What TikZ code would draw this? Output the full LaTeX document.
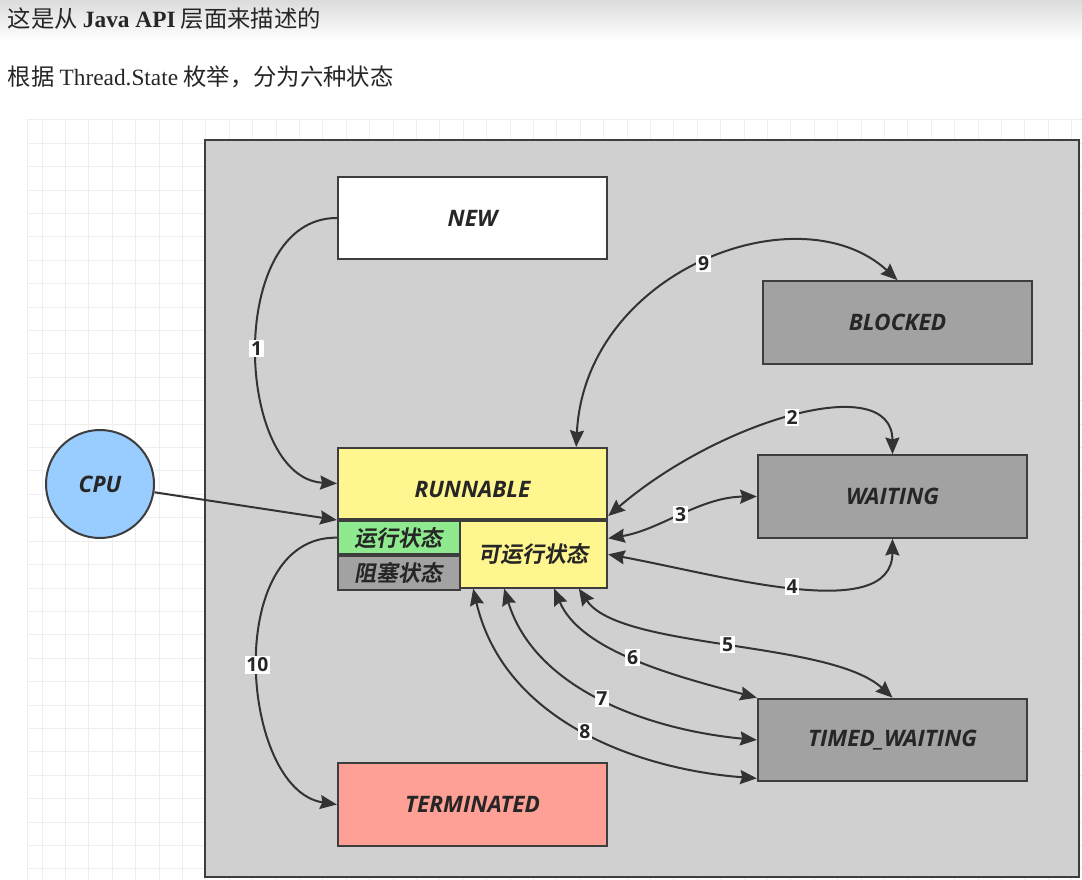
\documentclass[tikz,border=0pt]{standalone}
\usepackage{fontspec}
\setmainfont{Liberation Serif}
\newfontfamily\cjk{Noto Sans CJK SC}
\newfontfamily\cjkbi{Noto Sans CJK SC Bold}[FakeSlant=0.18]
\newfontfamily\diag{Open Sans}
\usepackage{xcolor}
\usetikzlibrary{arrows.meta, positioning}

\definecolor{panelgray}{HTML}{D0D0D0}
\definecolor{stategray}{HTML}{A2A2A2}
\definecolor{edgegray}{HTML}{3D3D3D}
\definecolor{linegray}{HTML}{333333}
\definecolor{inkgray}{HTML}{262626}
\definecolor{gridgray}{HTML}{EEEEEE}
\definecolor{runyellow}{HTML}{FFF68F}
\definecolor{rungreen}{HTML}{8FEA8F}
\definecolor{termred}{HTML}{FFA096}
\definecolor{cpublue}{HTML}{99CCFF}

\begin{document}
\begin{tikzpicture}[
    x=0.75pt, y=-0.75pt,
    box/.style={draw=edgegray, line width=1.5pt, rectangle, minimum width=202pt, minimum height=62pt, inner sep=0pt, align=center, font=\diag\bfseries\itshape\fontsize{17}{19}\selectfont, text=inkgray},
    part/.style={draw=edgegray, line width=1.5pt, rectangle, inner sep=0pt, font=\cjkbi\fontsize{16.5}{18}\selectfont, text=inkgray},
    num/.style={fill=white, inner sep=1.3pt, font=\diag\bfseries\fontsize{14.5}{15}\selectfont, text=inkgray},
    arrow/.style={draw=linegray, line width=1.5pt, ->, >={Stealth[length=12.5pt, width=10.5pt, inset=1.5pt]}},
    twoway/.style={arrow, <->},
    gridline/.style={draw=gridgray, line width=0.75pt}
]

\useasboundingbox[fill=white] (0,0) rectangle (1082,880);
\shade[top color=black!14, bottom color=white] (0,0) rectangle (1082,40);

\node[anchor=west, text=inkgray, font=\cjk\fontsize{17.5}{19}\selectfont] (line1) at (3,19) {这是从 {\rmfamily\bfseries Java API} 层面来描述的};
\node[anchor=west, text=inkgray, font=\cjk\fontsize{17.5}{19}\selectfont] (line2) at (3,77) {根据 {\rmfamily Thread.State} 枚举，分为六种状态};

\foreach \i in {0,...,44} \draw[gridline] ({42+23.4*\i},120) -- ({42+23.4*\i},880);
\foreach \j in {0,...,32} \draw[gridline] (27,{120+23.4*\j}) -- (1082,{120+23.4*\j});
\draw[gridline] (27,120) -- (27,880);

\draw[draw=edgegray, line width=1.5pt, fill=panelgray] (205,140) rectangle (1079,877);

\node[box, fill=white] (new) at (472.5,218) {NEW};
\node[box, fill=stategray] (blocked) at (897.5,322.5) {BLOCKED};
\node[box, fill=stategray] (waiting) at (892.5,496.5) {WAITING};
\node[box, fill=stategray] (timed) at (892.5,740) {TIMED\_WAITING};
\node[box, fill=termred] (term) at (472.5,804.5) {TERMINATED};
\node[box, fill=runyellow, minimum height=53.25pt] (runnable) at (472.5,483.5) {\raisebox{-10.5pt}[0pt][0pt]{RUNNABLE}};
\node[part, fill=rungreen, anchor=north west, minimum width=91.5pt, minimum height=25pt] (running) at (runnable.south west) {运行状态};
\node[part, fill=stategray, anchor=north west, minimum width=91.5pt, minimum height=25pt] (stuck) at (running.south west) {阻塞状态};
\node[part, fill=runyellow, anchor=north east, minimum width=110.25pt, minimum height=50pt] (ready) at (runnable.south east) {可运行状态};
\node[circle, draw=edgegray, line width=1.5pt, fill=cpublue, minimum size=81pt, font=\diag\bfseries\itshape\fontsize{17}{19}\selectfont, text=inkgray] (cpu) at (100,484) {CPU};

\draw[arrow] (new.west) .. controls (225,218) and (235,478) .. (runnable.west) node[num, pos=0.5] {1};
\draw[arrow] (cpu) -- (runnable.south west);
\draw[arrow] (running.west) .. controls (222,536) and (240,790) .. (term.west) node[num, pos=0.5] {10};
\draw[twoway] ([xshift=-24pt]runnable.north east) .. controls (585,270) and (800,190) .. (blocked.north) node[num, pos=0.5] {9};
\draw[twoway] ([yshift=3pt]runnable.south east) .. controls (720,420) and (892,370) .. (waiting.north) node[num, pos=0.5] {2};
\draw[twoway] ([yshift=12pt]ready.east) .. controls (660,530) and (700,497) .. (waiting.west) node[num, pos=0.5] {3};
\draw[twoway] (ready.east) .. controls (720,575) and (892,625) .. (waiting.south) node[num, pos=0.5] {4};
\draw[twoway] ([xshift=-22pt]ready.south east) .. controls (620,650) and (830,640) .. (timed.north) node[num, pos=0.5] {5};
\draw[twoway] ([xshift=-40.5pt]ready.south east) .. controls (580,650) and (670,675) .. (timed.north west) node[num, pos=0.5] {6};
\draw[twoway] ([xshift=33.75pt]ready.south west) .. controls (535,690) and (650,730) .. (timed.west) node[num, pos=0.5] {7};
\draw[twoway] ([xshift=10.5pt]ready.south west) .. controls (505,725) and (645,770) .. ([yshift=3pt]timed.south west) node[num, pos=0.5] {8};

\end{tikzpicture}
\end{document}
